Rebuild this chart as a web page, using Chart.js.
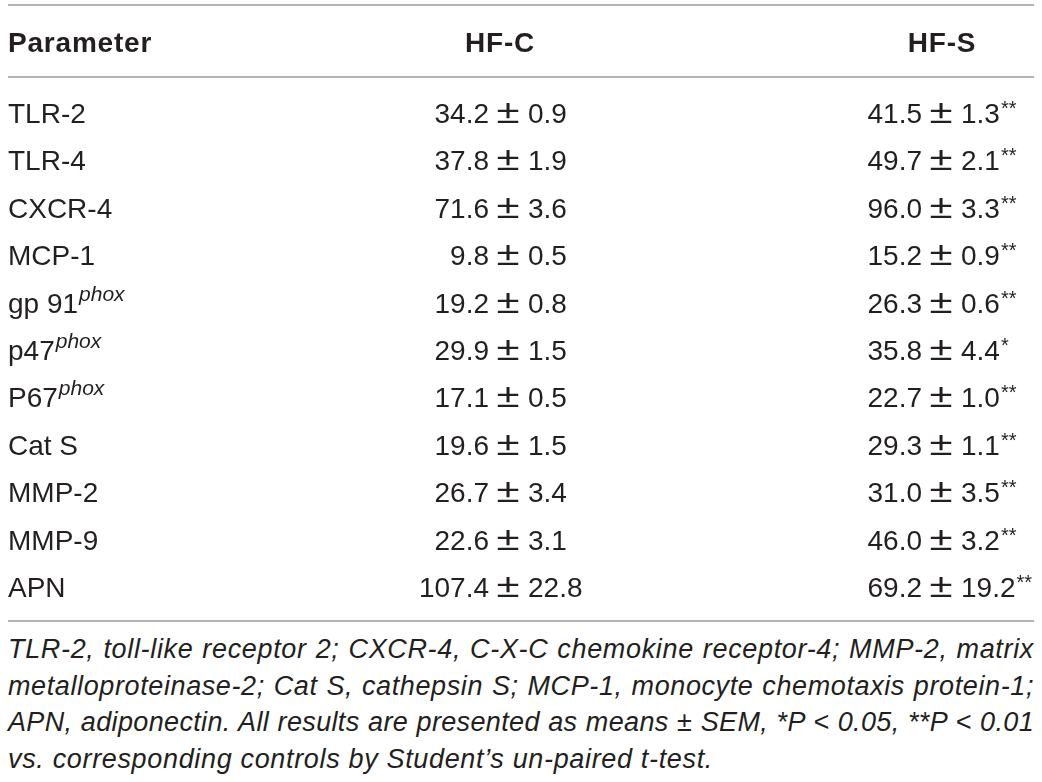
<!DOCTYPE html>
<html>
<head>
<meta charset="utf-8">
<script src="https://cdn.jsdelivr.net/npm/chart.js@4.4.1/dist/chart.umd.min.js"></script>
<style>
html,body{margin:0;padding:0;background:#fff;}
#wrap{position:relative;width:1042px;height:782px;overflow:hidden;}
#tbl{position:absolute;left:0;top:0;}
#note{position:absolute;left:8px;top:631px;width:1026px;font-family:"Liberation Sans",Arial,sans-serif;font-style:italic;font-size:27px;line-height:36.5px;color:#231f20;}
#note div{white-space:nowrap;text-align:justify;text-align-last:justify;}
#note div.last{text-align-last:left;}
</style>
</head>
<body>
<div id="wrap">
<canvas id="tbl" width="1042" height="630"></canvas>
<div id="note">
<div>TLR-2, toll-like receptor 2; CXCR-4, C-X-C chemokine receptor-4; MMP-2, matrix</div>
<div>metalloproteinase-2; Cat S, cathepsin S; MCP-1, monocyte chemotaxis protein-1;</div>
<div>APN, adiponectin. All results are presented as means ± SEM, *P &lt; 0.05, **P &lt; 0.01</div>
<div class="last">vs. corresponding controls by Student’s un-paired t-test.</div>
</div>
</div>
<script>
// table data
const columns = ["Parameter","HF-C","HF-S"];
const params = ["TLR-2","TLR-4","CXCR-4","MCP-1","gp 91","p47","P67","Cat S","MMP-2","MMP-9","APN"];
const paramSup = ["","","","","phox","phox","phox","","","",""];
const hfcMean = [34.2,37.8,71.6,9.8,19.2,29.9,17.1,19.6,26.7,22.6,107.4];
const hfcSem = [0.9,1.9,3.6,0.5,0.8,1.5,0.5,1.5,3.4,3.1,22.8];
const hfsMean = [41.5,49.7,96.0,15.2,26.3,35.8,22.7,29.3,31.0,46.0,69.2];
const hfsSem = [1.3,2.1,3.3,0.9,0.6,4.4,1.0,1.1,3.5,3.2,19.2];
const hfsSig = ["**","**","**","**","**","*","**","**","**","**","**"];

// layout (x positions on a 0..1042 axis)
const colAnchor = [8,508,941];
const headX = [8,500,942];
const ruleL = 8, ruleR = 1034;

const FONT = '"Liberation Sans", Arial, sans-serif';
const INK = "#231f20";
const RULE = "#9b9b9b";

const tablePlugin = {
id:"tableText",
afterDatasetsDraw(chart){
const ctx = chart.ctx;
const xs = chart.scales.x;
const m0 = chart.getDatasetMeta(0).data;
const m1 = chart.getDatasetMeta(1).data;
const m2 = chart.getDatasetMeta(2).data;
const firstY = m0[0].y;
const lastY = m0[m0.length-1].y;

ctx.save();
ctx.fillStyle = INK;
ctx.textBaseline = "alphabetic";

// header
ctx.font = "bold 28px " + FONT;
ctx.letterSpacing = "0.8px";
const hy = firstY - 71 + 10;
ctx.textAlign = "left";
ctx.fillText(columns[0], xs.getPixelForValue(headX[0]), hy);
ctx.textAlign = "center";
ctx.fillText(columns[1], xs.getPixelForValue(headX[1]), hy);
ctx.fillText(columns[2], xs.getPixelForValue(headX[2]), hy);
ctx.letterSpacing = "0px";

// rules
ctx.strokeStyle = RULE;
ctx.lineWidth = 1.5;
[firstY-108, firstY-36, lastY+34].forEach(function(y){
ctx.beginPath();
ctx.moveTo(xs.getPixelForValue(ruleL), y);
ctx.lineTo(xs.getPixelForValue(ruleR), y);
ctx.stroke();
});

// parameter names
m0.forEach(function(p,i){
const by = p.y + 10;
ctx.font = "28px " + FONT;
ctx.textAlign = "left";
ctx.fillText(params[i], p.x, by);
if(paramSup[i]){
const w = ctx.measureText(params[i]).width;
ctx.font = "italic 21px " + FONT;
ctx.fillText(paramSup[i], p.x + w + 1, by - 12);
}
});

// mean ± sem cells
function cell(p, mean, sem, sig){
const by = p.y + 10;
ctx.font = "28px " + FONT;
ctx.textAlign = "right";
ctx.fillText(mean.toFixed(1), p.x - 19, by);
ctx.save();
ctx.translate(p.x, by);
ctx.scale(1.5, 1.2);
ctx.textAlign = "center";
ctx.fillText("±", 0, 0);
ctx.restore();
ctx.textAlign = "left";
const s = sem.toFixed(1);
ctx.fillText(s, p.x + 20, by);
if(sig){
const w = ctx.measureText(s).width;
ctx.font = "20px " + FONT;
ctx.fillText(sig, p.x + 20 + w + 1, by - 8);
}
}
m1.forEach(function(p,i){ cell(p, hfcMean[i], hfcSem[i], ""); });
m2.forEach(function(p,i){ cell(p, hfsMean[i], hfsSem[i], hfsSig[i]); });
ctx.restore();
}
};

new Chart(
document.getElementById("tbl"),
{
type:"scatter",
data:{
labels:params,
datasets:columns.map(function(c,k){
return {
label:c,
data:params.map(function(name){ return {x:colAnchor[k], y:name}; }),
pointRadius:0,
pointHoverRadius:0
};
})
},
options:{
responsive:false,
animation:false,
events:[],
layout:{padding:{top:89.3,bottom:19.3,left:0,right:0}},
plugins:{legend:{display:false},tooltip:{enabled:false}},
scales:{
x:{type:"linear",min:0,max:1042,display:false},
y:{type:"category",labels:params,offset:true,display:false}
}
},
plugins:[tablePlugin]
}
);

// footnote: widen letters a little so words sit like the original, then justify
(function(){
const lines = document.querySelectorAll("#note div");
const mc = document.createElement("canvas").getContext("2d");
mc.font = "italic 27px " + FONT;
const last = lines[lines.length-1].textContent;
const base = Math.max(0, (705 - mc.measureText(last).width) / last.length);
lines.forEach(function(d,i){
const t = d.textContent;
let ls = base;
if(i < lines.length-1){
ls = Math.min(base, (1020 - mc.measureText(t).width) / t.length);
}
d.style.letterSpacing = Math.max(0, ls).toFixed(2) + "px";
});
})();
</script>
</body>
</html>
